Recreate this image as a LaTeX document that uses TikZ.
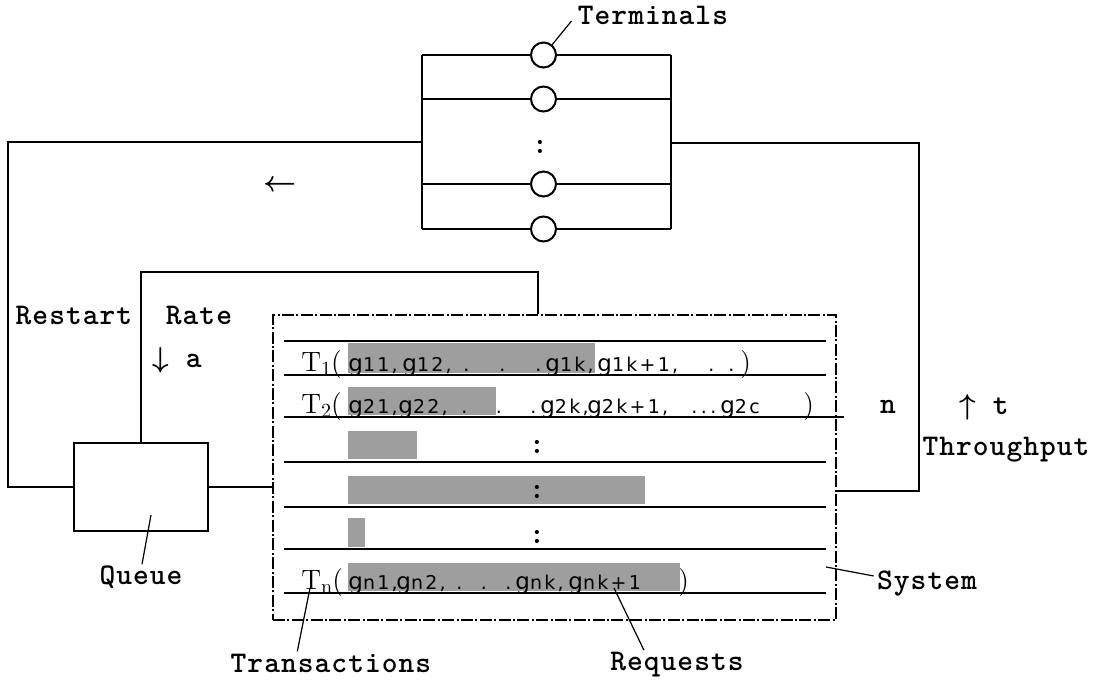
\documentclass[tikz,border=0pt]{standalone}
\usepackage{fontspec}
\usetikzlibrary{calc}
\newfontfamily\labf{lmmonolt10-bold.otf}[LetterSpace=3.5]
\newfontfamily\gfont{DejaVu Sans}[LetterSpace=12]
\newcommand\lab{\labf\fontsize{15}{15}\selectfont}
\newcommand\Tt[1]{{\rmfamily\fontsize{14}{14}\selectfont T\raisebox{-2pt}{\fontsize{10}{10}\selectfont #1}(}}
\newcommand\Tc{{\rmfamily\fontsize{14}{14}\selectfont )}}
\newcommand\gq[1]{{\gfont\fontsize{11.5}{11.5}\selectfont g{\fontsize{9.5}{9.5}\selectfont #1}}}
\newcommand\cm{{\gfont\fontsize{9.5}{9.5}\selectfont,}}
\newcommand\pc[2]{\makebox[#1pt][l]{#2}}
\newcommand\gd{{\gfont\fontsize{9.5}{9.5}\selectfont.}}
% evenly spread dots in a box of given width
\newcommand\dthree[1]{\makebox[#1pt][s]{\hspace{4pt}\gd\hfill\gd\hfill\gd\hspace{2pt}}}
\newcommand\dtwo[1]{\makebox[#1pt][s]{\hspace{4pt}\gd\hfill\gd\hspace{3pt}}}
\newcommand\bla{\mbox{\boldmath$\leftarrow$}}
\newcommand\bda{\mbox{\boldmath$\downarrow$}}
\newcommand\bua{\mbox{\boldmath$\uparrow$}}
\tikzset{
  ln/.style={line width=1pt},
  thinln/.style={line width=0.6pt},
  lab/.style={font=\lab, inner sep=0pt},
  term/.style={circle, draw, line width=1pt, minimum size=12.5pt, inner sep=0pt, fill=white},
  qbox/.style={draw, line width=1pt, minimum width=67pt, minimum height=44pt, inner sep=0pt},
  sysbox/.style={draw, line width=0.8pt, dash pattern=on 6pt off 1.2pt on 1pt off 1.2pt, minimum width=281.5pt, minimum height=152.5pt, inner sep=0pt},
  reqfill/.style={fill=black!38},
  rowtxt/.style={anchor=base west, inner sep=0pt},
}
\begin{document}
\begin{tikzpicture}[x=0.5pt,y=-0.5pt]
\useasboundingbox[fill=white] (0,0) rectangle (1094,685);

% ---------------- terminals ----------------
\foreach \n/\yy in {1/55,2/99,3/184,4/229} \node[term] (t\n) at (543.5,\yy) {};
\coordinate (tlA) at (422,55);  \coordinate (tlB) at (422,229);
\coordinate (trA) at (671,55);  \coordinate (trB) at (671,229);
\coordinate (tlJ) at (422,142); \coordinate (trJ) at (671,143);
\draw[ln] (tlA) -- (tlB);
\draw[ln] (trA) -- (trB);
\foreach \n in {1,2,3,4} {
  \draw[ln] (t\n.west -| tlA) -- (t\n.west);
  \draw[ln] (t\n.east) -- (t\n.east -| trA);
}
\node[lab] (tdots) at (540,147) {:};
\node[lab] (terminals) at (653,15) {Terminals};
\draw[thinln] ($(terminals.west)+(-6,6)$) -- (t1.50);

% ---------------- queue and system ----------------
\node[qbox] (q) at (141,487) {};
\node[sysbox] (sys) at (554.5,467.5) {};

% left loop (restart)
\coordinate (LL) at (8,142);
\draw[ln] (tlJ) -- (LL) |- (q.west);
% rate loop
\coordinate (RT) at (538,272);
\draw[ln] (q.north) |- (RT) -- (RT |- sys.north);
% queue to system
\draw[ln] (q.east) -- (q.east -| sys.west);
% right loop (throughput)
\coordinate (RR) at (919,143);
\coordinate (RB) at (919,491);
\draw[ln] (trJ) -- (RR) -- (RB) -- (RB -| sys.east);

% ---------------- requests (shaded) ----------------
\fill[reqfill] (348,343) rectangle (595,373);
\fill[reqfill] (348,387) rectangle (496,415);
\fill[reqfill] (348,431) rectangle (417,459);
\fill[reqfill] (348,476) rectangle (645,504);
\fill[reqfill] (348,518) rectangle (365,547);
\fill[reqfill] (348,563) rectangle (680,591);

% row lines
\foreach \yy in {341,375,462,507,549,593} \draw[ln] (284,\yy) -- (826,\yy);
\draw[ln] (284,417) -- (844,417);

% row texts
\node[rowtxt] (row1) at (301,371) {\pc{23.5}{\Tt{1}}\pc{27}{\gq{11}\cm}\pc{26.5}{\gq{12}\cm}\dthree{45}\pc{26}{\gq{1k}\cm}\pc{51.5}{\gq{1k+1}\cm}\dtwo{20}\Tc};
\node[rowtxt] (row2) at (301,413) {\pc{23.5}{\Tt{2}}\pc{25}{\gq{21}\cm}\pc{27.5}{\gq{22}\cm}\dthree{43.5}\pc{23.5}{\gq{2k}\cm}\pc{48}{\gq{2k+1}\cm}\dthree{18.5}\pc{41.5}{\gq{2c}}\Tc};
\node[rowtxt] (rown) at (301,589) {\pc{23.5}{\Tt{n}}\pc{24}{\gq{n1}\cm}\pc{26}{\gq{n2}\cm}\dthree{33.5}\pc{26.5}{\gq{nk}\cm}\pc{55}{\gq{nk+1}}\Tc};
\node[lab] (c3) at (537,447) {:};
\node[lab] (c4) at (537,492) {:};
\node[lab] (c5) at (537,537) {:};

% ---------------- labels ----------------
\node[lab] (restart) at (74,315) {Restart};
\node[lab] (rate) at (199,315) {Rate};
\node[lab] (rdown) at (177,360) {\bda{} a};
\node[lab] (larrow) at (280,186) {\bla};
\node[lab] (queue) at (141,577) {Queue};
\node[lab] (trans) at (331,663) {Transactions};
\node[lab] (reqs) at (677,665) {Requests};
\node[lab] (syslab) at (927,583) {System};
\node[lab] (nlab) at (888,407) {n};
\node[lab] (tup) at (984,407) {\bua{} t};
\node[lab] (thr) at (1006,450) {Throughput};

% leaders
\coordinate (qin) at ($(q.center)+(10,28)$);
\draw[thinln] ($(queue.north)+(1,-1)$) -- (qin);
\coordinate (tn) at (310,588);
\draw[thinln] ($(trans.north west)+(67,-2)$) -- (tn);
\coordinate (rq) at (614,588);
\draw[thinln] ($(reqs.north west)+(34,-2)$) -- (rq);
\coordinate (sysin) at (826,567);
\draw[thinln] ($(syslab.west)+(-3,-7)$) -- (sysin);
\end{tikzpicture}
\end{document}
